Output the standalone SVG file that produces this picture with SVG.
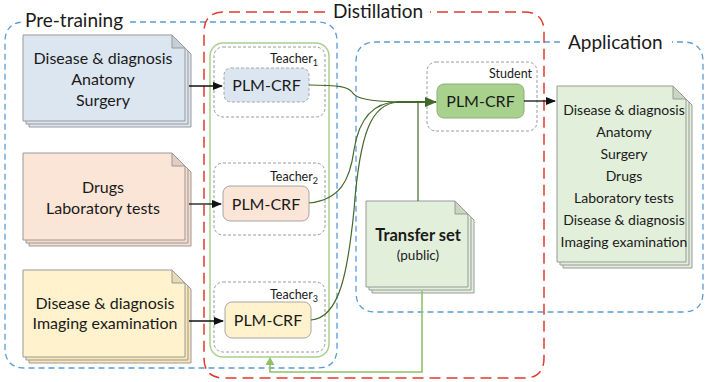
<svg xmlns="http://www.w3.org/2000/svg" width="705" height="382" viewBox="0 0 705 382">
  <style>
    text { font-family: Lato, "Open Sans", "Liberation Sans", sans-serif; fill: #1a1a1a; }
    .stage { fill: none; stroke: #5b9bd5; stroke-width: 1.3; stroke-dasharray: 6 4; }
    .distil { fill: none; stroke: #e03a2f; stroke-width: 1.5; stroke-dasharray: 11 6; }
    .frame { fill: none; stroke: #9a9a9a; stroke-width: 1; stroke-dasharray: 3 2; }
    .page { stroke: #999; stroke-width: 1; }
    .fold { stroke: #999; stroke-width: 1; }
    .plm { stroke: #a6a6a6; stroke-width: 1; }
    .title { font-size: 19px; }
    .doc { font-size: 16px; text-anchor: middle; }
    .app { font-size: 14px; text-anchor: middle; }
    .model { font-size: 16px; text-anchor: middle; }
    .role { font-size: 12.5px; text-anchor: end; }
    .black { fill: none; stroke: #111; stroke-width: 1.3; }
    .kd { fill: none; stroke: #43682a; stroke-width: 1.2; }
    .feed { fill: none; stroke: #8ec267; stroke-width: 1.6; }
  </style>
  <defs>
    <marker id="arrowBlack" markerWidth="10" markerHeight="8" refX="9" refY="4" orient="auto" markerUnits="userSpaceOnUse">
      <path d="M0,0 L10,4 L0,8 Z" fill="#111"/>
    </marker>
    <marker id="arrowKd" markerWidth="12" markerHeight="10" refX="11" refY="5" orient="auto" markerUnits="userSpaceOnUse">
      <path d="M0,0 L12,5 L0,10 Z" fill="#43682a"/>
    </marker>
  </defs>

  <!-- stage regions -->
  <g id="pretraining-stage">
    <path class="stage" d="M 130 22 H 317 Q 337 22 337 42 V 348 Q 337 368 317 368 H 25 Q 5 368 5 348 V 42 Q 5 22 25 22"/>
    <text class="title" x="25" y="27">Pre-training</text>
  </g>
  <g id="application-stage">
    <path class="stage" d="M 560 42 H 376 Q 356 42 356 62 V 292 Q 356 312 376 312 H 683 Q 703 312 703 292 V 62 Q 703 42 683 42 H 672"/>
    <text class="title" x="568" y="49">Application</text>
  </g>
  <g id="distillation-stage">
    <path class="distil" d="M 325 12 H 224 Q 204 12 204 32 V 358 Q 204 378 224 378 H 524 Q 544 378 544 358 V 32 Q 544 12 524 12 H 430"/>
    <text class="title" x="333" y="18">Distillation</text>
  </g>

  <!-- teacher container -->
  <rect id="teacher-group" x="210" y="43" width="119" height="314" rx="13" fill="none" stroke="#a9d18e" stroke-width="1.5"/>

  <!-- source corpora -->
  <g id="corpus-1">
    <path class="page" fill="#dce6f1" d="M 29 41 H 178 L 191 54 V 127 H 29 Z"/>
    <path class="page" fill="#dce6f1" d="M 26 38 H 175 L 188 51 V 124 H 26 Z"/>
    <path class="page" fill="#dce6f1" d="M 23 35 H 172 L 185 48 V 121 H 23 Z"/>
    <path class="fold" fill="#c4cfdb" d="M 172 35 V 48 H 185 Z"/>
    <text class="doc" x="103" y="64">Disease &amp; diagnosis</text>
    <text class="doc" x="103" y="85">Anatomy</text>
    <text class="doc" x="103" y="106">Surgery</text>
  </g>
  <g id="corpus-2">
    <path class="page" fill="#f8dccb" d="M 29 159 H 178 L 191 172 V 246 H 29 Z"/>
    <path class="page" fill="#f8dccb" d="M 26 156 H 175 L 188 169 V 243 H 26 Z"/>
    <path class="page" fill="#fbe5d6" d="M 23 153 H 172 L 185 166 V 240 H 23 Z"/>
    <path class="fold" fill="#e2cdc0" d="M 172 153 V 166 H 185 Z"/>
    <text class="doc" x="103" y="193">Drugs</text>
    <text class="doc" x="103" y="214">Laboratory tests</text>
  </g>
  <g id="corpus-3">
    <path class="page" fill="#fbe7b5" d="M 29 276 H 178 L 191 289 V 363 H 29 Z"/>
    <path class="page" fill="#fbe7b5" d="M 26 273 H 175 L 188 286 V 360 H 26 Z"/>
    <path class="page" fill="#fff2cc" d="M 23 270 H 172 L 185 283 V 357 H 23 Z"/>
    <path class="fold" fill="#e5d9b6" d="M 172 270 V 283 H 185 Z"/>
    <text class="doc" x="105" y="309">Disease &amp; diagnosis</text>
    <text class="doc" x="105" y="329">Imaging examination</text>
  </g>

  <!-- teachers -->
  <g id="teacher-1">
    <rect class="frame" x="214" y="47" width="111" height="70" rx="9"/>
    <text class="role" x="318" y="63">Teacher<tspan font-size="9" dy="3">1</tspan></text>
    <rect x="224" y="68" width="85" height="34" rx="7" fill="#dce6f1" stroke="#a6a6a6" stroke-dasharray="3 2"/>
    <text class="model" x="266.5" y="91">PLM-CRF</text>
  </g>
  <g id="teacher-2">
    <rect class="frame" x="214" y="163" width="111" height="72" rx="9"/>
    <text class="role" x="318" y="181">Teacher<tspan font-size="9" dy="3">2</tspan></text>
    <rect class="plm" x="223" y="186" width="86" height="35" rx="7" fill="#fbe5d6"/>
    <text class="model" x="266" y="209.5">PLM-CRF</text>
  </g>
  <g id="teacher-3">
    <rect class="frame" x="214" y="282" width="111" height="70" rx="9"/>
    <text class="role" x="318" y="299">Teacher<tspan font-size="9" dy="3">3</tspan></text>
    <rect class="plm" x="225" y="302" width="86" height="36" rx="7" fill="#fff2cc"/>
    <text class="model" x="268" y="326">PLM-CRF</text>
  </g>

  <!-- student -->
  <g id="student">
    <rect class="frame" x="427" y="62" width="110" height="69" rx="9"/>
    <text class="role" x="532" y="78">Student</text>
    <rect x="437" y="84" width="87" height="34" rx="7" fill="#a9d18e" stroke="#8fae78"/>
    <text class="model" x="480.5" y="107">PLM-CRF</text>
  </g>

  <!-- transfer set -->
  <g id="transfer-set">
    <path class="page" fill="#e2efda" d="M 372 207 H 461 L 474 220 V 293 H 372 Z"/>
    <path class="page" fill="#e2efda" d="M 369 204 H 458 L 471 217 V 290 H 369 Z"/>
    <path class="page" fill="#e2efda" d="M 366 201 H 455 L 468 214 V 287 H 366 Z"/>
    <path class="fold" fill="#c9d6c1" d="M 455 201 V 214 H 468 Z"/>
    <text x="418" y="241" font-size="16.5" font-weight="bold" text-anchor="middle">Transfer set</text>
    <text x="418" y="260" font-size="13.5" text-anchor="middle">(public)</text>
  </g>

  <!-- application corpus -->
  <g id="application-corpus">
    <path class="page" fill="#e2efda" d="M 563 92 H 679 L 692 105 V 268 H 563 Z"/>
    <path class="page" fill="#e2efda" d="M 560 89 H 676 L 689 102 V 265 H 560 Z"/>
    <path class="page" fill="#e2efda" d="M 557 86 H 673 L 686 99 V 262 H 557 Z"/>
    <path class="fold" fill="#c9d6c1" d="M 673 86 V 99 H 686 Z"/>
    <text class="app" x="624" y="115">Disease &amp; diagnosis</text>
    <text class="app" x="624" y="137">Anatomy</text>
    <text class="app" x="624" y="159">Surgery</text>
    <text class="app" x="624" y="181">Drugs</text>
    <text class="app" x="624" y="203">Laboratory tests</text>
    <text class="app" x="624" y="225">Disease &amp; diagnosis</text>
    <text class="app" x="624" y="247">Imaging examination</text>
  </g>

  <!-- connectors -->
  <g id="connectors">
    <line class="black" x1="189" y1="86" x2="222" y2="86" marker-end="url(#arrowBlack)"/>
    <line class="black" x1="189" y1="204" x2="221" y2="204" marker-end="url(#arrowBlack)"/>
    <line class="black" x1="189" y1="321" x2="223" y2="321" marker-end="url(#arrowBlack)"/>
    <line class="black" x1="524" y1="101" x2="555" y2="101" marker-end="url(#arrowBlack)"/>

    <path class="kd" d="M 309 85 C 340 85 348 87 352 92 C 356 99 370 101 398 102"/>
    <path class="kd" d="M 309 203 C 340 200 350 180 354 150 C 360 112 378 102 398 102"/>
    <path class="kd" d="M 311 320 C 340 318 348 270 354 210 C 360 130 372 104 398 102"/>
    <path class="kd" d="M 418 201 V 102"/>
    <line x1="397" y1="102" x2="436" y2="102" stroke="#43682a" stroke-width="2" marker-end="url(#arrowKd)"/>

    <path class="feed" d="M 422 291 V 372 H 270 V 359"/>
    <path d="M 265.5 365 L 270 357 L 274.5 365 Z" fill="#8ec267"/>
  </g>
</svg>
